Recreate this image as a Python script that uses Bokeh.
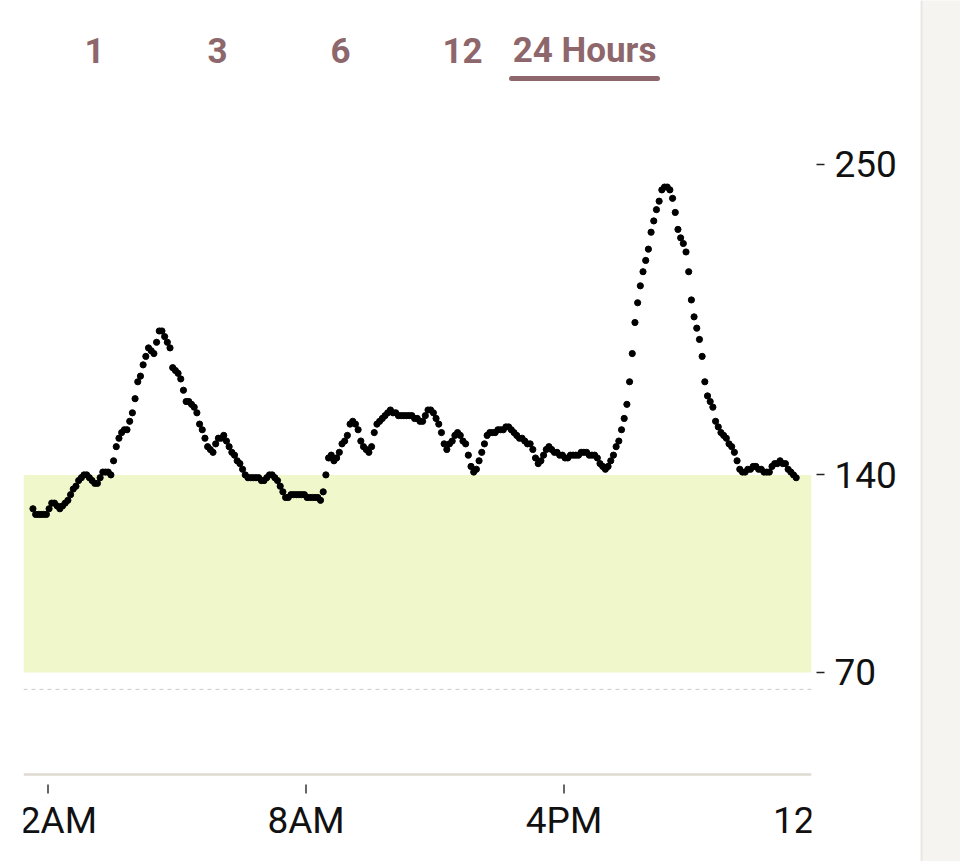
from bokeh.plotting import figure
from bokeh.models import Range1d, LinearAxis, FixedTicker, ColumnDataSource, Span
from bokeh.layouts import row
from bokeh.embed import file_html
from bokeh.resources import INLINE
from bokeh.core.properties import value

# ---------------- data ----------------
glucose_mg_dl = [
    128, 126, 126, 126, 126, 126, 128, 130, 130, 129,
    128, 129, 130, 131, 133, 135, 136, 138, 139, 140,
    140, 139, 138, 137, 137, 139, 141, 141, 141, 140,
    145, 150, 153, 155, 156, 156, 159, 162, 167, 173,
    175, 179, 182, 185, 184, 183, 187, 191, 191, 189,
    187, 185, 178, 177, 176, 174, 170, 166, 166, 165,
    164, 162, 158, 156, 153, 150, 149, 148, 151, 153,
    153, 154, 152, 150, 148, 147, 145, 144, 142, 140,
    139, 139, 139, 139, 139, 138, 138, 139, 140, 140,
    139, 138, 136, 134, 132, 132, 133, 133, 133, 133,
    133, 133, 132, 132, 132, 132, 132, 131, 134, 140,
    146, 147, 145, 146, 148, 151, 152, 154, 158, 159,
    158, 156, 152, 150, 149, 148, 150, 155, 158, 159,
    160, 161, 162, 163, 162, 162, 161, 161, 161, 161,
    161, 161, 160, 160, 159, 159, 161, 163, 163, 162,
    160, 158, 155, 151, 149, 151, 152, 154, 155, 154,
    152, 151, 147, 143, 141, 142, 145, 148, 151, 154,
    155, 155, 155, 156, 156, 156, 157, 157, 156, 155,
    154, 153, 153, 152, 151, 151, 149, 146, 144, 145,
    147, 149, 150, 149, 148, 148, 147, 147, 146, 146,
    147, 147, 147, 147, 148, 148, 148, 147, 147, 147,
    146, 144, 143, 142, 143, 145, 147, 150, 152, 156,
    160, 165, 173, 183, 194, 201, 207, 212, 216, 220,
    226, 230, 234, 237, 241, 242, 242, 241, 238, 233,
    227, 224, 222, 219, 212, 202, 196, 192, 188, 182,
    173, 168, 166, 164, 159, 157, 155, 154, 153, 151,
    150, 148, 145, 142, 141, 141, 142, 142, 143, 143,
    142, 142, 141, 141, 141, 143, 144, 144, 145, 144,
    144, 142, 141, 140, 139,
]
first_reading_min = -28      # 11:32 PM of the previous day
reading_step_min = 5         # one CGM reading every 5 minutes

range_tabs = ["1", "3", "6", "12", "24 Hours"]
selected_tab = "24 Hours"
x_tick_hours = [0, 8, 16, 24]
x_tick_labels = ["12AM", "8AM", "4PM", "12AM"]
y_ticks = [70, 140, 250]
target_low = 70
target_high = 140
low_line = 64

reading_hours = [(first_reading_min + reading_step_min * i) / 60.0
                 for i in range(len(glucose_mg_dl))]

# ---------------- geometry ----------------
W, H = 920, 861
LEFT, RIGHT_BORDER = 23, 109
PX_PER_HOUR = 32.25
PX_PER_UNIT = 2.822
X0_PX = 47.5        # page x of 12AM
Y140_PX = 474.4     # page y of 140 mg/dL

x_start = (LEFT - X0_PX) / PX_PER_HOUR
x_end = x_start + (W - LEFT - RIGHT_BORDER) / PX_PER_HOUR
y_top = 140 + Y140_PX / PX_PER_UNIT
y_bottom = y_top - H / PX_PER_UNIT


def xd(px):
    return x_start + (px - LEFT) / PX_PER_HOUR


def yd(py):
    return y_top - py / PX_PER_UNIT


MAUVE = "#8d676b"
FONT = value("Roboto")

p = figure(width=W, height=H,
           x_range=Range1d(x_start, x_end), y_range=Range1d(y_bottom, y_top),
           x_axis_location=None, y_axis_location=None,
           toolbar_location=None, output_backend="svg",
           min_border_left=LEFT, min_border_right=RIGHT_BORDER,
           min_border_top=0, min_border_bottom=0,
           outline_line_color=None,
           background_fill_color="white", border_fill_color="white")
p.grid.visible = False

# target band
p.quad(left=x_start, right=x_end, bottom=target_low, top=target_high,
       fill_color="#f0f7cb", line_color=None)

# low dashed line
p.add_layout(Span(location=low_line, dimension="width", line_color="#c9c9c9",
                  line_width=1, line_dash="4 4"))

# x axis line, ticks, labels (drawn inside the frame so labels clip at edges)
p.add_layout(Span(location=yd(774), dimension="width", line_color="#dedad2",
                  line_width=2.5))
p.segment(x0=x_tick_hours, y0=[yd(784)] * len(x_tick_hours),
          x1=x_tick_hours, y1=[yd(793)] * len(x_tick_hours),
          line_color="#333333", line_width=1.5)
p.text(x=x_tick_hours, y=[yd(820)] * len(x_tick_hours), text=x_tick_labels,
       text_font=FONT, text_font_size="37px", text_color="#111111",
       text_align="center", text_baseline="middle")

# range tabs
tab_px = [94, 217, 340, 462, 584]
p.text(x=[xd(v) for v in tab_px], y=[yd(50)] * len(range_tabs), text=range_tabs,
       text_font=FONT, text_font_size="35px", text_font_style="bold",
       text_color=MAUVE, text_align="center", text_baseline="middle")
sel = range_tabs.index(selected_tab)
p.segment(x0=[xd(tab_px[sel] - 73)], y0=[yd(78)], x1=[xd(tab_px[sel] + 73)], y1=[yd(78)],
          line_color=MAUVE, line_width=5, line_cap="round")

# readings
src = ColumnDataSource(dict(t=reading_hours, g=glucose_mg_dl))
p.scatter(x="t", y="g", source=src, size=6.2, color="black")

# right y axis (an invisible spacer axis first so the ticks sit off the frame)
spacer = LinearAxis(ticker=FixedTicker(ticks=[target_high]), axis_line_color=None,
                    major_tick_out=5, major_tick_in=0, minor_tick_out=0, minor_tick_in=0,
                    major_tick_line_color=None, major_label_standoff=0,
                    major_label_overrides={target_high: ""})
p.add_layout(spacer, "right")
yax = LinearAxis(ticker=FixedTicker(ticks=y_ticks), axis_line_color=None,
                 major_tick_out=8, major_tick_in=0, minor_tick_out=0, minor_tick_in=0,
                 major_tick_line_color="#222222", major_tick_line_width=1.5,
                 major_label_standoff=10, major_label_text_font="Roboto",
                 major_label_text_font_size="37px", major_label_text_color="#111111")
p.add_layout(yax, "right")

# right page strip
p2 = figure(width=40, height=H, x_range=Range1d(0, 40), y_range=Range1d(0, H),
            x_axis_location=None, y_axis_location=None,
            toolbar_location=None, output_backend="svg", min_border=0,
            outline_line_color=None,
            background_fill_color="#f6f4f1", border_fill_color="#f6f4f1")
p2.grid.visible = False
p2.quad(left=0, right=2, bottom=0, top=H, fill_color="#e9e6e2", line_color=None)

layout = row(p, p2)
open("out.html", "w").write(file_html(layout, INLINE, "glucose"))
